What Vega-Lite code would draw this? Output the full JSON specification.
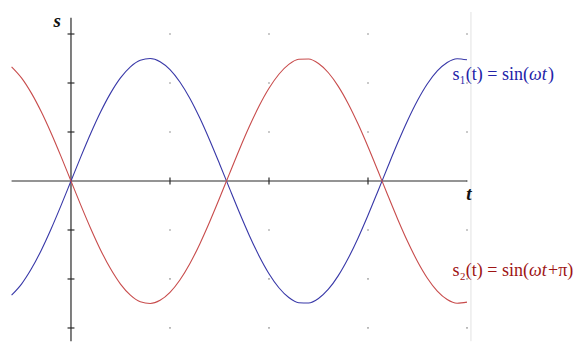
{
  "$schema": "https://vega.github.io/schema/vega-lite/v6.json",
  "width": 577,
  "height": 342,
  "autosize": {"type": "fit", "contains": "padding"},
  "padding": 0,
  "background": "white",
  "config": {"view": {"stroke": null}},
  "datasets": {
    "wave": [
      {"t": -0.6, "v": -2.330}, {"t": -0.5, "v": -2.104}, {"t": -0.4, "v": -1.793}, {"t": -0.3, "v": -1.412},
      {"t": -0.2, "v": -0.974}, {"t": -0.1, "v": -0.497}, {"t": 0.0, "v": 0.0}, {"t": 0.1, "v": 0.497},
      {"t": 0.2, "v": 0.974}, {"t": 0.3, "v": 1.412}, {"t": 0.4, "v": 1.793}, {"t": 0.5, "v": 2.104},
      {"t": 0.6, "v": 2.330}, {"t": 0.7, "v": 2.464}, {"t": 0.8, "v": 2.499}, {"t": 0.9, "v": 2.435},
      {"t": 1.0, "v": 2.273}, {"t": 1.1, "v": 2.021}, {"t": 1.2, "v": 1.689}, {"t": 1.3, "v": 1.289},
      {"t": 1.4, "v": 0.837}, {"t": 1.5, "v": 0.353}, {"t": 1.6, "v": -0.146}, {"t": 1.7, "v": -0.639},
      {"t": 1.8, "v": -1.106}, {"t": 1.9, "v": -1.530}, {"t": 2.0, "v": -1.892}, {"t": 2.1, "v": -2.179},
      {"t": 2.2, "v": -2.379}, {"t": 2.3, "v": -2.484}, {"t": 2.4, "v": -2.490}, {"t": 2.5, "v": -2.397},
      {"t": 2.6, "v": -2.209}, {"t": 2.7, "v": -1.932}, {"t": 2.8, "v": -1.578}, {"t": 2.9, "v": -1.162},
      {"t": 3.0, "v": -0.699}, {"t": 3.1, "v": -0.208}, {"t": 3.2, "v": 0.291}, {"t": 3.3, "v": 0.779},
      {"t": 3.4, "v": 1.235}, {"t": 3.5, "v": 1.642}, {"t": 3.6, "v": 1.984}, {"t": 3.7, "v": 2.247},
      {"t": 3.8, "v": 2.420}, {"t": 3.9, "v": 2.496}, {"t": 4.0, "v": 2.473}
    ]
  },
  "layer": [
    {
      "data": {"values": [{"x": 4.04, "y1": -3.27, "y2": 3.45}]},
      "mark": {"type": "rule", "color": "#e2e2e2", "strokeWidth": 1},
      "encoding": {
        "x": {"field": "x", "type": "quantitative", "scale": {"domain": [-0.717, 5.111], "nice": false, "zero": false}, "axis": null},
        "y": {"field": "y1", "type": "quantitative", "scale": {"domain": [-3.286, 3.694], "nice": false, "zero": false}, "axis": null},
        "y2": {"field": "y2"}
      }
    },
    {
      "data": {"values": [
        {"x": 1, "y": 3}, {"x": 2, "y": 3}, {"x": 3, "y": 3}, {"x": 4, "y": 3},
        {"x": 1, "y": 2}, {"x": 2, "y": 2}, {"x": 3, "y": 2}, {"x": 4, "y": 2},
        {"x": 1, "y": 1}, {"x": 2, "y": 1}, {"x": 3, "y": 1}, {"x": 4, "y": 1},
        {"x": 4, "y": 0},
        {"x": 1, "y": -1}, {"x": 2, "y": -1}, {"x": 3, "y": -1}, {"x": 4, "y": -1},
        {"x": 1, "y": -2}, {"x": 2, "y": -2}, {"x": 3, "y": -2}, {"x": 4, "y": -2},
        {"x": 1, "y": -3}, {"x": 2, "y": -3}, {"x": 3, "y": -3}, {"x": 4, "y": -3}
      ]},
      "mark": {"type": "square", "filled": true, "size": 3, "color": "#9a9a9a", "opacity": 0.8},
      "encoding": {
        "x": {"field": "x", "type": "quantitative"},
        "y": {"field": "y", "type": "quantitative"}
      }
    },
    {
      "data": {"values": [
        {"x1": -0.6, "x2": 4.0, "y1": 0, "y2": 0},
        {"x1": 0, "x2": 0, "y1": -3.27, "y2": 3.33},
        {"x1": -0.035, "x2": 0.035, "y1": 3, "y2": 3},
        {"x1": -0.035, "x2": 0.035, "y1": 2, "y2": 2},
        {"x1": -0.035, "x2": 0.035, "y1": 1, "y2": 1},
        {"x1": -0.035, "x2": 0.035, "y1": -1, "y2": -1},
        {"x1": -0.035, "x2": 0.035, "y1": -2, "y2": -2},
        {"x1": -0.035, "x2": 0.035, "y1": -3, "y2": -3},
        {"x1": 1, "x2": 1, "y1": -0.07, "y2": 0.07},
        {"x1": 2, "x2": 2, "y1": -0.07, "y2": 0.07},
        {"x1": 3, "x2": 3, "y1": -0.07, "y2": 0.07}
      ]},
      "mark": {"type": "rule", "color": "#2a2a2a", "strokeWidth": 1.2},
      "encoding": {
        "x": {"field": "x1", "type": "quantitative"},
        "x2": {"field": "x2"},
        "y": {"field": "y1", "type": "quantitative"},
        "y2": {"field": "y2"}
      }
    },
    {
      "data": {"name": "wave"},
      "mark": {"type": "line", "interpolate": "monotone", "color": "#3838a8", "strokeWidth": 1.1},
      "encoding": {
        "x": {"field": "t", "type": "quantitative"},
        "y": {"field": "v", "type": "quantitative"}
      }
    },
    {
      "data": {"name": "wave"},
      "transform": [{"calculate": "-datum.v", "as": "w"}],
      "mark": {"type": "line", "interpolate": "monotone", "color": "#c84c4c", "strokeWidth": 1.1},
      "encoding": {
        "x": {"field": "t", "type": "quantitative"},
        "y": {"field": "w", "type": "quantitative"}
      }
    },
    {
      "data": {"values": [
        {"x": -0.14, "y": 3.27, "label": "s"},
        {"x": 4.02, "y": -0.27, "label": "t"}
      ]},
      "mark": {"type": "text", "font": "Liberation Serif", "fontSize": 19, "fontStyle": "italic", "fontWeight": "bold", "color": "#111111", "align": "center", "baseline": "middle"},
      "encoding": {
        "x": {"field": "x", "type": "quantitative"},
        "y": {"field": "y", "type": "quantitative"},
        "text": {"field": "label"}
      }
    },
    {
      "data": {"values": [
        {"x": 4.626, "y": 2.16, "label": "s₁(t) = sin(", "c": "blue"},
        {"x": 4.626, "y": -1.84, "label": "s₂(t) = sin(", "c": "red"}
      ]},
      "mark": {"type": "text", "font": "Liberation Serif", "fontSize": 18, "align": "right", "baseline": "middle"},
      "encoding": {
        "x": {"field": "x", "type": "quantitative"},
        "y": {"field": "y", "type": "quantitative"},
        "text": {"field": "label"},
        "color": {"field": "c", "type": "nominal", "scale": {"domain": ["blue", "red"], "range": ["#2323a8", "#9e1414"]}, "legend": null}
      }
    },
    {
      "data": {"values": [
        {"x": 4.626, "y": 2.16, "label": "ωt", "c": "blue"},
        {"x": 4.626, "y": -1.84, "label": "ωt", "c": "red"}
      ]},
      "mark": {"type": "text", "font": "Liberation Serif", "fontSize": 18, "fontStyle": "italic", "align": "left", "baseline": "middle"},
      "encoding": {
        "x": {"field": "x", "type": "quantitative"},
        "y": {"field": "y", "type": "quantitative"},
        "text": {"field": "label"},
        "color": {"field": "c", "type": "nominal", "legend": null}
      }
    },
    {
      "data": {"values": [
        {"x": 4.818, "y": 2.16, "label": ")", "c": "blue"},
        {"x": 4.818, "y": -1.84, "label": "+π)", "c": "red"}
      ]},
      "mark": {"type": "text", "font": "Liberation Serif", "fontSize": 18, "align": "left", "baseline": "middle"},
      "encoding": {
        "x": {"field": "x", "type": "quantitative"},
        "y": {"field": "y", "type": "quantitative"},
        "text": {"field": "label"},
        "color": {"field": "c", "type": "nominal", "legend": null}
      }
    }
  ]
}
